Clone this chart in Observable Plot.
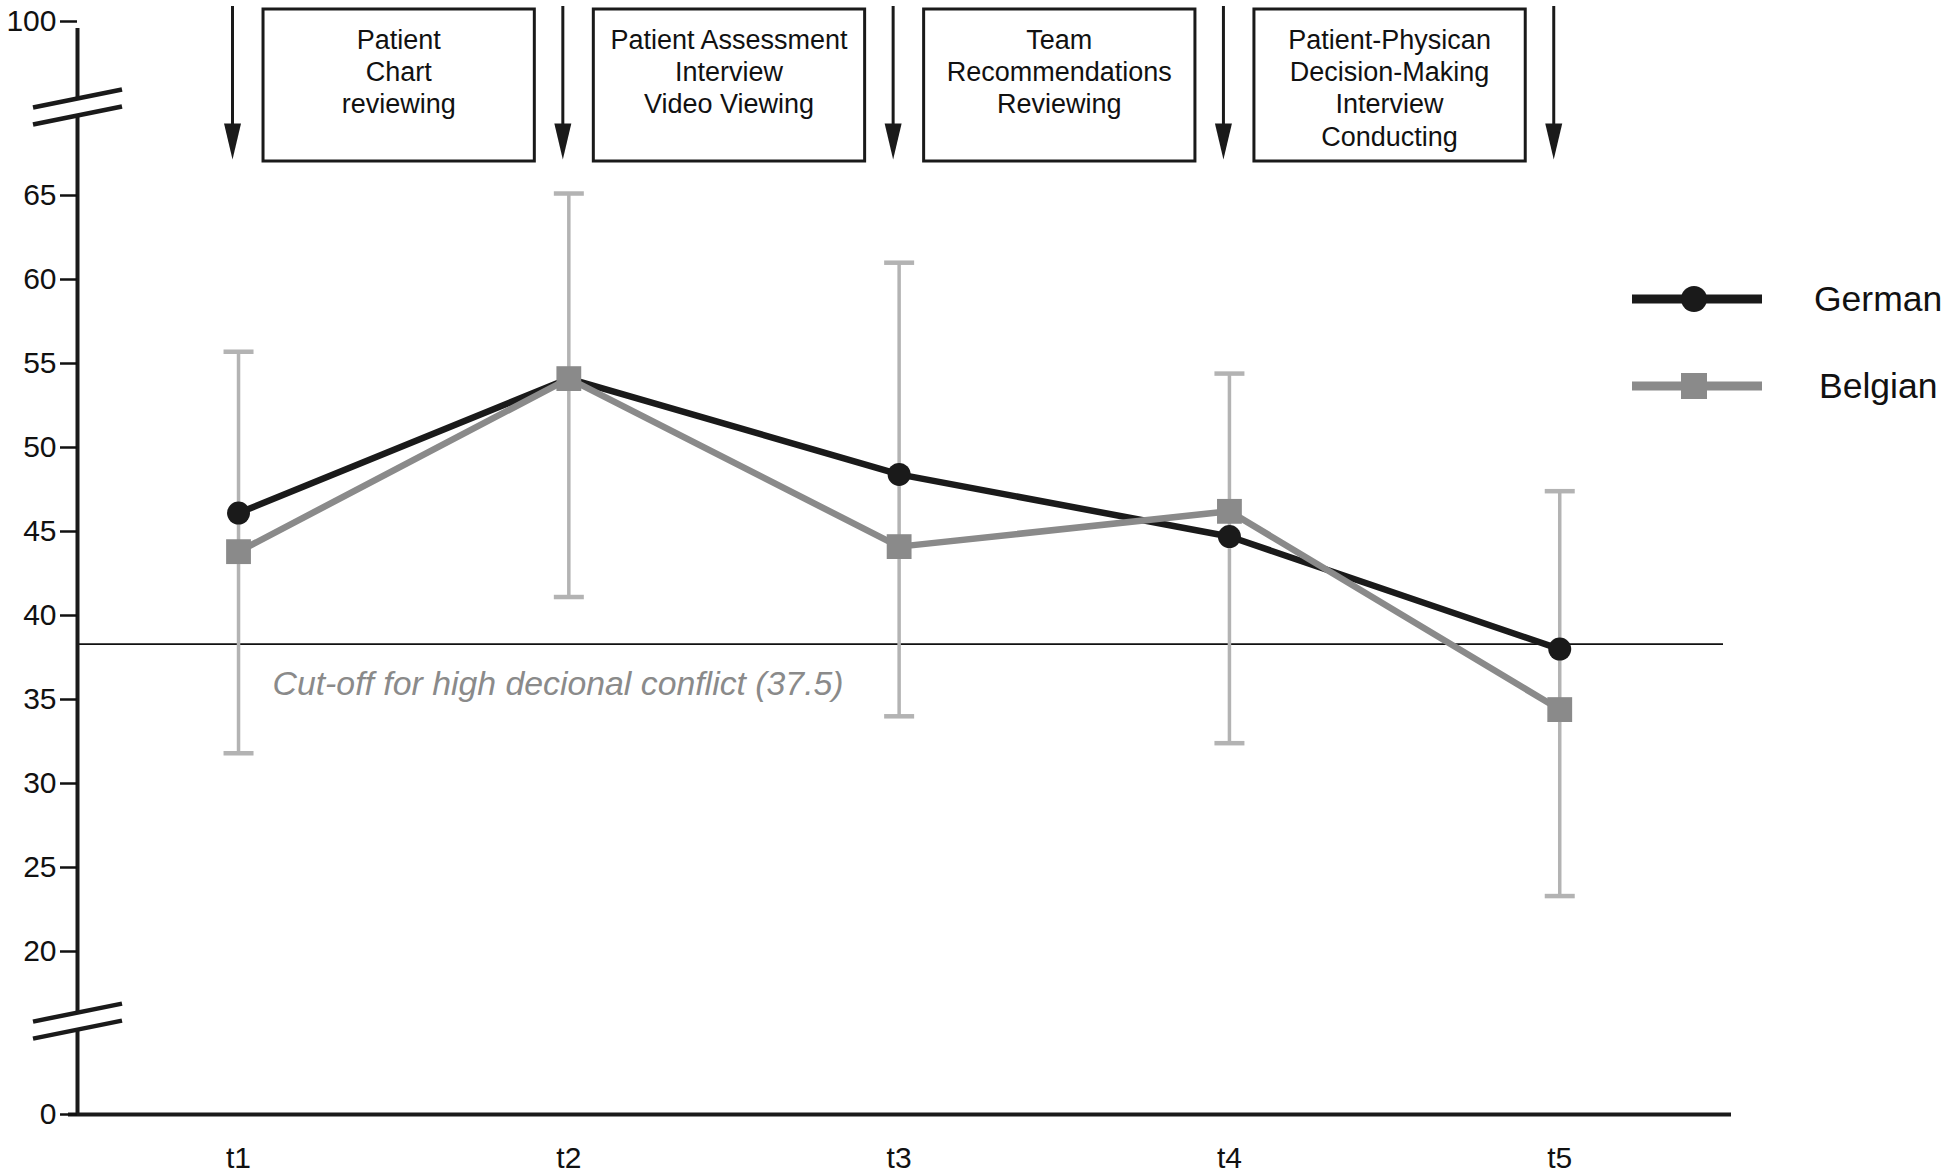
<!DOCTYPE html>
<html><head><meta charset="utf-8">
<script src="https://cdn.jsdelivr.net/npm/d3@7"></script>
<script src="https://cdn.jsdelivr.net/npm/@observablehq/plot@0.6"></script>
<style>
html,body{margin:0;padding:0;background:#fff;}
#chart{position:relative;width:1946px;height:1171px;}
</style></head><body><div id="chart"></div>
<script>
// ---- data ----
const timepoints = ["t1", "t2", "t3", "t4", "t5"];
const germanMeans = [46.1, 54.1, 48.4, 44.7, 38.0];
const belgianMeans = [43.8, 54.1, 44.1, 46.2, 34.4];
const errorLow = [31.8, 41.1, 34.0, 32.4, 23.3];
const errorHigh = [55.7, 65.4, 61.0, 54.4, 47.4];
const yTicks = [0, 20, 25, 30, 35, 40, 45, 50, 55, 60, 65, 100];
const yBreakpoints = [0, 20, 65, 100];
const axisBreaks = [11.4, 82.7];
const cutoffValue = 38.3;
const cutoffLabel = "Cut-off for high decional conflict (37.5)";
const stageLabels = [
  "Patient\nChart\nreviewing",
  "Patient Assessment\nInterview\nVideo Viewing",
  "Team\nRecommendations\nReviewing",
  "Patient-Physican\nDecision-Making\nInterview\nConducting"
];
const seriesNames = ["German", "Belgian"];

// ---- broken (piecewise) value axis: value -> display coordinate ----
const brk = d3.scaleLinear().domain(yBreakpoints).range([0, 163, 919, 1093]);

// ---- tables ----
const tIdx = timepoints.map((t, i) => i + 1);
const german = timepoints.map((t, i) => ({t: i + 1, v: brk(germanMeans[i])}));
const belgian = timepoints.map((t, i) => ({t: i + 1, v: brk(belgianMeans[i])}));
const errors = timepoints.map((t, i) => ({t: i + 1, lo: brk(errorLow[i]), hi: brk(errorHigh[i])}));
const stages = stageLabels.map((s, i) => ({x1: i + 1, x2: i + 2, label: s}));

// ---- styles ----
const BLACK = "#1a1a1a", GREY = "#8a8a8a", LIGHT = "#b3b3b3";
const FONT = "'Liberation Sans', Arial, Helvetica, sans-serif";
const W = 1946, H = 1171, mL = 77, mR = 215, mT = 5, mB = 57;
const frameBottom = H - mB;

const capSymbol = {draw(ctx) { ctx.moveTo(-15, 0); ctx.lineTo(15, 0); }};
const arrowHead = {draw(ctx) { ctx.moveTo(0, 0); ctx.lineTo(-8.5, -36); ctx.lineTo(8.5, -36); ctx.closePath(); }};

const plot = Plot.plot({
  width: W, height: H,
  marginLeft: mL, marginRight: mR, marginTop: mT, marginBottom: mB,
  style: {fontFamily: FONT, background: "white", color: "#111", overflow: "visible"},
  x: {domain: [0.5125, 5.52], axis: null},
  y: {domain: [0, brk(100) + 16], axis: null},
  marks: [
    // cut-off
    Plot.ruleY([brk(cutoffValue)], {stroke: "#111", strokeWidth: 1.8, insetRight: 8}),
    Plot.text([cutoffLabel], {x: 1, y: brk(cutoffValue), dx: 34, dy: 40, textAnchor: "start",
      fontStyle: "italic", fill: GREY, fontSize: 33.8}),
    // error bars
    Plot.ruleX(errors, {x: "t", y1: "lo", y2: "hi", stroke: LIGHT, strokeWidth: 3.5}),
    Plot.dot(errors, {x: "t", y: "lo", symbol: capSymbol, stroke: LIGHT, strokeWidth: 4.5, fill: "none", r: 5}),
    Plot.dot(errors, {x: "t", y: "hi", symbol: capSymbol, stroke: LIGHT, strokeWidth: 4.5, fill: "none", r: 5}),
    // series
    Plot.line(german, {x: "t", y: "v", stroke: BLACK, strokeWidth: 6.5}),
    Plot.dot(german, {x: "t", y: "v", fill: BLACK, r: 11.5}),
    Plot.line(belgian, {x: "t", y: "v", stroke: GREY, strokeWidth: 6.5}),
    Plot.dot(belgian, {x: "t", y: "v", fill: GREY, symbol: "square", r: 14}),
    // stage boxes
    Plot.rect(stages, {x1: "x1", x2: "x2", insetLeft: 25, insetRight: 34, insetTop: 4,
      insetBottom: frameBottom - 161, fill: "white", stroke: BLACK, strokeWidth: 3}),
    Plot.text(stages, {x: d => (d.x1 + d.x2) / 2, dx: -5, frameAnchor: "top", dy: 20,
      lineAnchor: "top", lineHeight: 1.2, text: "label", fontSize: 27, fill: "#111"}),
    // arrows
    Plot.ruleX(tIdx, {x: d => d, dx: -6, insetTop: 1, insetBottom: frameBottom - 130, stroke: BLACK, strokeWidth: 3}),
    Plot.dot(tIdx, {x: d => d, dx: -6, frameAnchor: "top", dy: 154, symbol: arrowHead, fill: BLACK, stroke: "none", r: 5}),
    // axes
    Plot.ruleX([0.5125], {y1: 0, y2: brk(100), stroke: BLACK, strokeWidth: 4, insetBottom: -7}),
    Plot.ruleY([0], {stroke: BLACK, strokeWidth: 4, insetLeft: -9}),
    Plot.axisY({ticks: yTicks.map(brk), tickSize: 17, tickPadding: 4, fontSize: 30, strokeWidth: 2.5,
      tickFormat: d => String(Math.round(brk.invert(d))), color: "#111"}),
    Plot.axisX({ticks: tIdx, tickFormat: i => timepoints[i - 1], tickSize: 0, tickPadding: 32,
      fontSize: 30, color: "#111"})
  ]
});

document.getElementById("chart").appendChild(plot);

// axis break marks and legend (decorations drawn on the same svg)
const svg = d3.select(plot);
const xs = plot.scale("x"), ys = plot.scale("y");
const ax = xs.apply(0.5125);
axisBreaks.forEach(v => {
  const cy = ys.apply(brk(v));
  const g = svg.append("g");
  g.append("path")
    .attr("d", `M${ax-44},${cy+0.5}L${ax+45},${cy-17.5}L${ax+45},${cy-0.5}L${ax-44},${cy+17.5}Z`)
    .attr("fill", "white").attr("stroke", "none");
  [-8.5, 8.5].forEach(o => {
    g.append("line")
      .attr("x1", ax - 44).attr("y1", cy + o + 9)
      .attr("x2", ax + 45).attr("y2", cy + o - 9)
      .attr("stroke", BLACK).attr("stroke-width", 4.5);
  });
});

const legend = svg.append("g").attr("font-family", FONT).attr("text-anchor", "start");
seriesNames.forEach((name, i) => {
  const y = 299 + i * 87;
  const color = i === 0 ? BLACK : GREY;
  legend.append("line").attr("x1", 1632).attr("x2", 1762).attr("y1", y).attr("y2", y)
    .attr("stroke", color).attr("stroke-width", 9);
  if (i === 0) legend.append("circle").attr("cx", 1694).attr("cy", y).attr("r", 13).attr("fill", color);
  else legend.append("rect").attr("x", 1681).attr("y", y - 13).attr("width", 26).attr("height", 26).attr("fill", color);
  legend.append("text").attr("x", i === 0 ? 1814 : 1819).attr("y", y).attr("dy", "0.35em")
    .attr("font-size", 35.5).attr("fill", "#111").text(name);
});
</script>
</body></html>
